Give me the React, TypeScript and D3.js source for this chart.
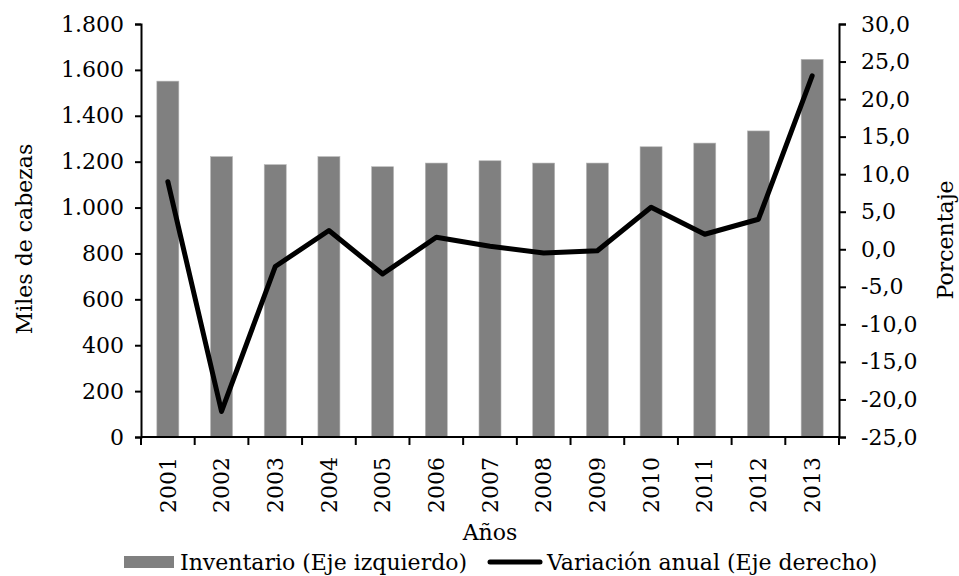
import React, { useEffect, useRef } from 'react'
import * as d3 from 'd3'

const years = ['2001', '2002', '2003', '2004', '2005', '2006', '2007', '2008', '2009', '2010', '2011', '2012', '2013']
const inventario = [1551, 1222, 1187, 1222, 1178, 1194, 1204, 1194, 1194, 1265, 1281, 1334, 1646]
const variacion = [9.0, -21.6, -2.3, 2.5, -3.3, 1.6, 0.4, -0.5, -0.2, 5.6, 2.0, 4.0, 23.1]
const leftTicks = [0, 200, 400, 600, 800, 1000, 1200, 1400, 1600, 1800]
const rightTicks = [-25, -20, -15, -10, -5, 0, 5, 10, 15, 20, 25, 30]

export default function App() {
  const ref = useRef<SVGSVGElement>(null)

  useEffect(() => {
    const W = 959, H = 576
    const margin = { top: 24, right: 120, bottom: 139, left: 141 }
    const font = "'DejaVu Serif', serif"
    const fs = 22

    const svg = d3.select(ref.current)
    svg.selectAll('*').remove()

    const x = d3.scaleBand()
      .domain(years)
      .range([margin.left, W - margin.right])
      .paddingInner(0.59)
      .paddingOuter(0.295)
    const band = d3.scaleBand().domain(years).range([margin.left, W - margin.right])
    const yL = d3.scaleLinear().domain([0, 1800]).range([H - margin.bottom, margin.top])
    const yR = d3.scaleLinear().domain([-25, 30]).range([H - margin.bottom, margin.top])

    // bars
    svg.append('g')
      .selectAll('rect')
      .data(inventario)
      .join('rect')
        .attr('x', (d, i) => x(years[i])!)
        .attr('y', d => yL(d))
        .attr('width', x.bandwidth())
        .attr('height', d => yL(0) - yL(d))
        .attr('fill', '#808080')
        .attr('stroke', '#b8b8b8')
        .attr('stroke-width', 0.6)

    // line
    const line = d3.line<number>()
      .x((d, i) => band(years[i])! + band.bandwidth() / 2)
      .y(d => yR(d))
    svg.append('path')
      .datum(variacion)
      .attr('d', line)
      .attr('fill', 'none')
      .attr('stroke', '#000')
      .attr('stroke-width', 5)
      .attr('stroke-linejoin', 'round')
      .attr('stroke-linecap', 'round')

    const styleAxis = (g: any) => {
      g.select('.domain').attr('stroke', '#000').attr('stroke-width', 2)
      g.selectAll('.tick line').attr('stroke', '#000').attr('stroke-width', 2)
      g.selectAll('.tick text').attr('fill', '#000').attr('font-family', font).attr('font-size', fs)
    }

    // left axis
    svg.append('g')
      .attr('transform', `translate(${margin.left},0)`)
      .call(d3.axisLeft(yL).tickValues(leftTicks).tickSize(6).tickPadding(11)
        .tickFormat(d => d3.format(',')(d as number).replace(/,/g, '.')))
      .call(styleAxis)

    // right axis
    svg.append('g')
      .attr('transform', `translate(${W - margin.right},0)`)
      .call(d3.axisRight(yR).tickValues(rightTicks).tickSize(7).tickPadding(15)
        .tickFormat(d => d3.format('.1f')(d as number).replace('.', ',').replace('−', '-')))
      .call(styleAxis)

    // x axis with ticks at band edges
    const xg = svg.append('g').attr('transform', `translate(0,${yL(0)})`)
    xg.append('line')
      .attr('x1', margin.left).attr('x2', W - margin.right)
      .attr('stroke', '#000').attr('stroke-width', 2)
    xg.selectAll('line.t')
      .data([...years.map(y => band(y)!), W - margin.right])
      .join('line')
        .attr('class', 't')
        .attr('x1', d => d).attr('x2', d => d)
        .attr('y1', 0).attr('y2', 8)
        .attr('stroke', '#000').attr('stroke-width', 2)
    xg.selectAll('text')
      .data(years)
      .join('text')
        .attr('transform', d => `translate(${band(d)! + band.bandwidth() / 2},20) rotate(-90)`)
        .attr('text-anchor', 'end')
        .attr('dy', '0.35em')
        .attr('font-family', font)
        .attr('font-size', fs)
        .text(d => d)

    // axis titles
    svg.append('text')
      .attr('transform', `translate(32,239) rotate(-90)`)
      .attr('text-anchor', 'middle')
      .attr('font-family', font).attr('font-size', fs)
      .text('Miles de cabezas')
    svg.append('text')
      .attr('transform', `translate(953,240) rotate(-90)`)
      .attr('text-anchor', 'middle')
      .attr('font-family', font).attr('font-size', fs)
      .text('Porcentaje')
    svg.append('text')
      .attr('x', (margin.left + W - margin.right) / 2)
      .attr('y', 540)
      .attr('text-anchor', 'middle')
      .attr('font-family', font).attr('font-size', fs)
      .text('Años')

    // legend
    const lg = svg.append('g')
    lg.append('rect').attr('x', 124).attr('y', 556).attr('width', 50).attr('height', 12).attr('fill', '#808080')
    lg.append('text').attr('x', 180).attr('y', 570).attr('font-family', font).attr('font-size', fs)
      .text('Inventario (Eje izquierdo)')
    lg.append('line').attr('x1', 490).attr('x2', 540).attr('y1', 562).attr('y2', 562)
      .attr('stroke', '#000').attr('stroke-width', 5).attr('stroke-linecap', 'round')
    lg.append('text').attr('x', 547).attr('y', 570).attr('font-family', font).attr('font-size', fs)
      .text('Variación anual (Eje derecho)')
  }, [])

  return (
    <svg ref={ref} width={959} height={576}
      style={{ position: 'absolute', left: 0, top: 0, background: '#fff' }} />
  )
}
